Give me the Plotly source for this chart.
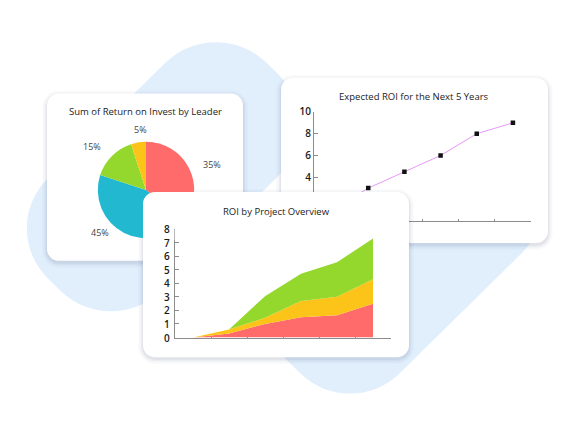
import plotly.graph_objects as go

W, H = 574, 430

# pie card: Sum of Return on Invest by Leader
pie_labels = ["Leader A", "Leader B", "Leader C", "Leader D"]
pie_values = [35, 45, 15, 5]
pie_colors = ["#ff6b6b", "#22b8cf", "#94d82d", "#fcc419"]

# line card: Expected ROI for the Next 5 Years
roi_years = ["Now", "Year 1", "Year 2", "Year 3", "Year 4", "Year 5"]
roi_expected = [1, 3, 4.5, 6, 8, 9]
roi_ticks = [0, 2, 4, 6, 8, 10]

# area card: ROI by Project Overview (stacked)
proj_steps = ["P1", "P2", "P3", "P4", "P5", "P6"]
proj_red = [0, 0.3, 1.0, 1.5, 1.65, 2.5]
proj_yellow = [0, 0.3, 0.45, 1.2, 1.35, 1.8]
proj_green = [0, 0, 1.6, 2.0, 2.55, 3.0]
proj_ticks = [0, 1, 2, 3, 4, 5, 6, 7, 8]

FONT = "Open Sans"
K = 0.5523

# where the percent labels sit around the pie (pixels)
pie_label_pos = [(212, 160), (100, 229.5), (92, 141.7), (140.3, 125)]


def px(x):
    return x / W


def py(y):
    return 1 - y / H


def paper_pt(p):
    return "%.5f,%.5f" % (px(p[0]), py(p[1]))


def pix_pt(p):
    return "%.2f,%.2f" % (p[0], p[1])


def rounded_path(pts, r, fmt):
    # polygon (pixel coords) with rounded corners, drawn with cubic curves
    n = len(pts)
    segs = []
    for i in range(n):
        vx, vy = pts[i]
        ax, ay = pts[i - 1]
        bx, by = pts[(i + 1) % n]
        da = ((ax - vx) ** 2 + (ay - vy) ** 2) ** 0.5
        db = ((bx - vx) ** 2 + (by - vy) ** 2) ** 0.5
        p1 = (vx + (ax - vx) * r / da, vy + (ay - vy) * r / da)
        p2 = (vx + (bx - vx) * r / db, vy + (by - vy) * r / db)
        c1 = (p1[0] + (vx - p1[0]) * K, p1[1] + (vy - p1[1]) * K)
        c2 = (p2[0] + (vx - p2[0]) * K, p2[1] + (vy - p2[1]) * K)
        segs.append((p1, c1, c2, p2))
    d = "M " + fmt(segs[0][0])
    for i, (p1, c1, c2, p2) in enumerate(segs):
        if i:
            d += " L " + fmt(p1)
        d += " C %s %s %s" % (fmt(c1), fmt(c2), fmt(p2))
    return d + " Z"


def card(x0, y0, x1, y1, fmt, ref=("paper", "paper"), layer="below"):
    out = []
    for s, a in [(5, 0.02), (3.5, 0.03), (2, 0.04), (0.8, 0.05)]:
        pts = [(x0 - s, y0 - s + 2), (x1 + s, y0 - s + 2),
               (x1 + s, y1 + s + 2), (x0 - s, y1 + s + 2)]
        out.append(dict(type="path", path=rounded_path(pts, 12 + s, fmt),
                        xref=ref[0], yref=ref[1], layer=layer, line_width=0,
                        fillcolor="rgba(40,60,90,%.3f)" % a))
    pts = [(x0, y0), (x1, y0), (x1, y1), (x0, y1)]
    out.append(dict(type="path", path=rounded_path(pts, 12, fmt),
                    xref=ref[0], yref=ref[1], layer=layer, line_width=0,
                    fillcolor="white"))
    return out


shapes = []

# background blob: two rotated pills
blob = "#e1effc"
upper = [(216, 6), (330, 120), (111, 339), (-3, 225)]
lower = [(457, 87), (571, 201), (350, 422), (236, 308)]
for poly, r in [(upper, 72), (lower, 70)]:
    shapes.append(dict(type="path", path=rounded_path(poly, r, paper_pt),
                       xref="paper", yref="paper", layer="below",
                       line_width=0, fillcolor=blob))

shapes += card(47, 88, 243, 258, paper_pt)
shapes += card(281, 72, 548, 240, paper_pt)
# area card lives in its own helper subplot so it sits above the line chart
shapes += card(143, 188, 409, 356, pix_pt, ref=("x3", "y3"))

# white patch hiding the pie where the area card overlaps it
patch = ("M %s L %s C %s %s %s L %s L %s L %s L %s L %s Z" % (
    paper_pt((143, 237)), paper_pt((143, 200)),
    paper_pt((143, 193.4)), paper_pt((148.4, 188)), paper_pt((155, 188)),
    paper_pt((200, 188)), paper_pt((200, 225.2)), paper_pt((174.4, 225.2)),
    paper_pt((174.4, 237)), paper_pt((143, 237))))
shapes.append(dict(type="path", path=patch, xref="paper", yref="paper",
                   layer="above", line_width=0, fillcolor="white"))

fig = go.Figure()

fig.add_trace(go.Pie(
    labels=pie_labels, values=pie_values, sort=False, direction="clockwise",
    rotation=0, marker=dict(colors=pie_colors, line=dict(width=0)),
    textinfo="none",
    domain=dict(x=[px(97), px(195)], y=[py(235), py(137)]),
    hoverinfo="skip", showlegend=False,
))

fig.add_trace(go.Scatter(
    x=roi_years, y=roi_expected, xaxis="x2", yaxis="y2",
    mode="lines+markers", line=dict(color="#e599f7", width=1),
    marker=dict(symbol="square", size=4.5, color="#111"),
    hoverinfo="skip", showlegend=False,
))

# helper subplot for the area card (no data)
fig.add_trace(go.Scatter(x=[], y=[], xaxis="x3", yaxis="y3",
                         hoverinfo="skip", showlegend=False))

for vals, col in [(proj_red, "#ff6b6b"), (proj_yellow, "#fcc419"),
                  (proj_green, "#94d82d")]:
    fig.add_trace(go.Scatter(
        x=proj_steps, y=vals, xaxis="x4", yaxis="y4", stackgroup="roi",
        mode="lines", line=dict(width=0, color=col), fillcolor=col,
        hoverinfo="skip", showlegend=False,
    ))

axis_col = "#8c8c8c"
tickfont = dict(family=FONT, size=10, color="#1a1a1a", weight=600)

annotations = [
    dict(text="Sum of Return on Invest by Leader", x=px(145), y=py(106)),
    dict(text="Expected ROI for the Next 5 Years", x=px(414), y=py(91)),
    dict(text="ROI by Project Overview", x=px(276), y=py(208)),
]
for a in annotations:
    a.update(xref="paper", yref="paper", showarrow=False, xanchor="center",
             yanchor="middle", font=dict(family=FONT, size=9.5, color="#222"))

total = sum(pie_values)
for v, (lx, ly) in zip(pie_values, pie_label_pos):
    annotations.append(dict(text="%d%%" % round(v * 100 / total),
                            x=px(lx), y=py(ly), xref="paper", yref="paper",
                            showarrow=False, xanchor="center",
                            yanchor="middle",
                            font=dict(family=FONT, size=9, color="#444")))

for v in proj_ticks:
    annotations.append(dict(text=str(v), x=px(172.5), y=v, xref="paper",
                            yref="y4", xanchor="right", yanchor="middle",
                            showarrow=False, font=tickfont))

fig.update_layout(
    width=W, height=H, margin=dict(l=0, r=0, t=0, b=0),
    paper_bgcolor="white", plot_bgcolor="rgba(0,0,0,0)",
    shapes=shapes, annotations=annotations, showlegend=False,
    xaxis2=dict(domain=[px(314), px(531)], anchor="y2", type="category",
                range=[-0.5, 5.5], tickson="boundaries", ticks="inside",
                ticklen=2, tickcolor=axis_col, showline=True,
                linecolor=axis_col, showticklabels=False, showgrid=False,
                zeroline=False, fixedrange=True),
    # 0 and 2 sit behind the area card, so only their tick marks are kept
    yaxis2=dict(domain=[py(217.3), py(106.7)], anchor="x2", range=[0, 10],
                tickvals=roi_ticks,
                ticktext=[str(t) if t >= 4 else "" for t in roi_ticks],
                ticks="inside", ticklen=4,
                tickcolor=axis_col, showline=True, linecolor=axis_col,
                showgrid=False, zeroline=False, tickfont=tickfont,
                fixedrange=True),
    xaxis3=dict(domain=[px(135), px(417)], anchor="y3", range=[135, 417],
                visible=False, fixedrange=True),
    yaxis3=dict(domain=[py(366), py(178)], anchor="x3", range=[366, 178],
                visible=False, fixedrange=True),
    xaxis4=dict(domain=[px(175), px(391)], anchor="y4", type="category",
                range=[-0.5, 5.5], tickson="boundaries", ticks="inside",
                ticklen=2, tickcolor=axis_col, showline=True,
                linecolor=axis_col, showticklabels=False, showgrid=False,
                zeroline=False, layer="below traces", fixedrange=True),
    yaxis4=dict(domain=[py(336), py(225.7)], anchor="x4", range=[0, 8],
                tickvals=proj_ticks, ticks="inside", ticklen=4,
                tickcolor=axis_col, showline=True, linecolor=axis_col,
                showgrid=False, zeroline=False, showticklabels=False,
                fixedrange=True),
)

fig.write_html("out.html", post_script="document.body.style.margin='0';",
               config={"displayModeBar": False})
